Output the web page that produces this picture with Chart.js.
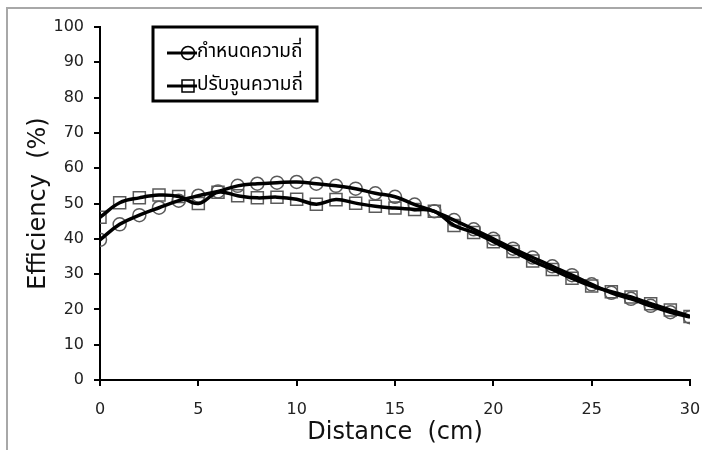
<!DOCTYPE html>
<html>
<head>
<meta charset="utf-8">
<script src="https://cdn.jsdelivr.net/npm/chart.js@4.4.1/dist/chart.umd.min.js"></script>
<style>
  html, body { margin: 0; padding: 0; background: #fff; }
  #wrap { position: relative; width: 702px; height: 450px; overflow: hidden; }
  #frame { position: absolute; left: 6px; top: 7px; right: -5px; bottom: -5px;
           border-left: 2px solid #a8a8a8; border-top: 2px solid #a8a8a8; }
  #chart { position: absolute; left: 0; top: 0; }
</style>
</head>
<body>
<div id="wrap">
  <div id="frame"></div>
  <canvas id="chart" width="702" height="450"></canvas>
</div>
<script>
// distance (cm)
const distance = [0, 1, 2, 3, 4, 5, 6, 7, 8, 9, 10, 11, 12, 13, 14, 15, 16, 17, 18, 19, 20,
                  21, 22, 23, 24, 25, 26, 27, 28, 29, 30];
// efficiency (%)
const fixedFreq = [39.7, 44.1, 46.7, 48.8, 50.8, 52.2, 53.4, 55.0, 55.6, 55.9, 56.1, 55.6, 55.0, 54.2,
                   52.9, 51.9, 49.7, 47.8, 45.3, 42.7, 40.0, 37.2, 34.7, 32.2, 29.7, 27.1, 24.7,
                   23.0, 21.0, 19.2, 17.8];
const tunedFreq = [46.1, 50.2, 51.6, 52.4, 52.0, 50.0, 53.2, 52.2, 51.6, 51.8, 51.2, 49.8, 51.1, 50.1,
                   49.2, 48.7, 48.3, 47.8, 43.8, 41.8, 39.2, 36.4, 33.7, 31.3, 28.8, 26.6, 25.0,
                   23.5, 21.6, 19.8, 18.0];
const seriesNames = ['กำหนดความถี่', 'ปรับจูนความถี่'];
const seriesMarkers = ['circle', 'rect'];
const yTicks = [0, 10, 20, 30, 40, 50, 60, 70, 80, 90, 100];
const xTicks = [0, 5, 10, 15, 20, 25, 30];

const toPoints = vals => distance.map((d, i) => ({ x: d, y: vals[i] }));
const thaiFont = '"Noto Sans Thai", "Tahoma", "DejaVu Sans", sans-serif';

// legend box drawn inside the plot, top left
const legendBox = {
  id: 'legendBox',
  afterDraw(chart) {
    const { ctx, chartArea } = chart;
    const x = chartArea.left + 53, y = chartArea.top, w = 164, h = 74;
    ctx.save();
    ctx.fillStyle = '#fff';
    ctx.fillRect(x, y, w, h);
    ctx.lineWidth = 3;
    ctx.strokeStyle = '#000';
    ctx.strokeRect(x, y, w, h);
    seriesNames.forEach((name, i) => {
      const cy = y + 26 + i * 33;
      ctx.beginPath();
      ctx.lineWidth = 3;
      ctx.moveTo(x + 14, cy);
      ctx.lineTo(x + 44, cy);
      ctx.stroke();
      ctx.lineWidth = 1.5;
      ctx.beginPath();
      if (seriesMarkers[i] === 'circle') {
        ctx.arc(x + 35, cy, 6.5, 0, Math.PI * 2);
      } else {
        ctx.rect(x + 29, cy - 6, 12, 12);
      }
      ctx.stroke();
      ctx.fillStyle = '#000';
      ctx.font = '19px ' + thaiFont;
      ctx.textBaseline = 'middle';
      ctx.textAlign = 'left';
      ctx.fillText(name, x + 44, cy);
    });
    ctx.restore();
  }
};

new Chart(document.getElementById('chart'), {
  type: 'line',
  data: {
    datasets: [
      { data: toPoints(fixedFreq), borderColor: '#000', borderWidth: 3.5, tension: 0.4,
        pointRadius: 0, fill: false, order: 1 },
      { data: toPoints(tunedFreq), borderColor: '#000', borderWidth: 3.5, tension: 0.4,
        pointRadius: 0, fill: false, order: 1 },
      { data: toPoints(fixedFreq), showLine: false, pointStyle: 'circle', pointRadius: 6.5,
        pointBorderColor: '#5a5a5a', pointBackgroundColor: 'rgba(0,0,0,0)', pointBorderWidth: 1.5, order: 2 },
      { data: toPoints(tunedFreq), showLine: false, pointStyle: 'rect', pointRadius: 8.5,
        pointBorderColor: '#5a5a5a', pointBackgroundColor: 'rgba(0,0,0,0)', pointBorderWidth: 1.5, order: 2 }
    ]
  },
  options: {
    responsive: false,
    animation: false,
    layout: { padding: { left: 0, right: 12, top: 27, bottom: 0 } },
    plugins: { legend: { display: false }, tooltip: { enabled: false } },
    scales: {
      x: {
        type: 'linear', min: 0, max: 30,
        afterFit: s => { s.height = 70; s.paddingLeft = 0; s.paddingRight = 0; },
        afterBuildTicks: s => { s.ticks = xTicks.map(v => ({ value: v })); },
        border: { color: '#000', width: 2 },
        grid: { drawOnChartArea: false, color: '#000', lineWidth: 2, tickLength: 6 },
        ticks: { color: '#222', font: { family: 'DejaVu Sans', size: 16 }, padding: 14, maxRotation: 0 },
        title: { display: true, text: 'Distance  (cm)', color: '#111',
                 font: { family: 'DejaVu Sans', size: 24 }, padding: { top: 0, bottom: 3 } }
      },
      y: {
        min: 0, max: 100,
        afterFit: s => { s.width = 100; s.paddingTop = 0; s.paddingBottom = 0; },
        afterBuildTicks: s => { s.ticks = yTicks.map(v => ({ value: v })); },
        border: { color: '#000', width: 2 },
        grid: { drawOnChartArea: false, color: '#000', lineWidth: 2, tickLength: 6 },
        ticks: { color: '#222', font: { family: 'DejaVu Sans', size: 16 }, padding: 10 },
        title: { display: true, text: 'Efficiency  (%)', color: '#111',
                 font: { family: 'DejaVu Sans', size: 24 }, padding: { top: 24, bottom: 0 } }
      }
    }
  },
  plugins: [legendBox]
});
</script>
</body>
</html>
